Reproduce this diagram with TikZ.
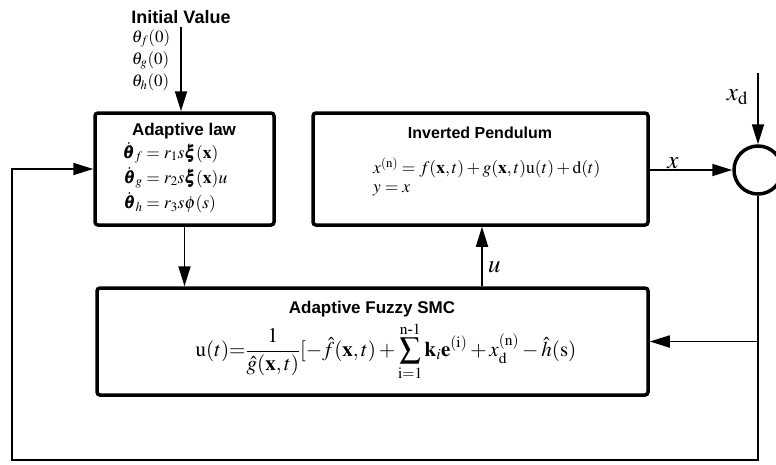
\documentclass[tikz,border=0pt]{standalone}
\usepackage{mathptmx}
\usepackage{amsmath,bm}
\usepackage{fontspec}
\setmainfont{Liberation Serif}
\setsansfont{Liberation Sans}
\usetikzlibrary{arrows.meta,positioning}

\begin{document}
\begin{tikzpicture}[x=1pt, y=-1pt,
    block/.style={draw, line width=3.5pt, rounded corners=3pt, inner sep=0pt},
    title/.style={font=\fontsize{17}{19}\sffamily\bfseries},
    eq/.style={font=\fontsize{17.5}{20}\selectfont, inner sep=0pt},
    sig/.style={font=\fontsize{25}{27}\selectfont},
    arrow/.style={-{Triangle[length=20pt,width=12pt]}, line width=1.8pt}]

  \useasboundingbox (0,0) rectangle (776,464);

  % Blocks
  \node[block, minimum width=179pt, minimum height=112pt] (law) at (184.5,169) {};
  \node[block, minimum width=335pt, minimum height=112pt] (plant) at (480.5,169) {};
  \node[block, minimum width=551pt, minimum height=107pt] (smc) at (372.5,341.5) {};
  \node[draw, circle, line width=3.5pt, minimum size=48pt, inner sep=0pt] (sum) at (758,170) {};

  % Titles
  \node[title, font=\fontsize{18}{20}\sffamily\bfseries] (init) at (181,17) {Initial Value};
  \node[title] (lawtitle) at (184,131) {Adaptive law};
  \node[title, font=\fontsize{16}{18}\sffamily\bfseries] (planttitle) at (480,133) {Inverted Pendulum};
  \node[title] (smctitle) at (372,309) {Adaptive Fuzzy SMC};

  % Initial parameters
  \node[eq, align=left, font=\fontsize{17}{22}\selectfont] (theta0) at (151,60)
    {$\theta_f(0)$\\$\theta_g(0)$\\$\theta_h(0)$};

  % Update laws
  \node[eq, font=\fontsize{17.5}{17.5}\selectfont] (laweq) at (175,178) {$\setlength{\jot}{3pt}\begin{aligned}
      \dot{\bm\theta}_f &= r_1 s\bm\xi(\mathbf{x})\\
      \dot{\bm\theta}_g &= r_2 s\bm\xi(\mathbf{x})u\\
      \dot{\bm\theta}_h &= r_3 s\phi(s)
    \end{aligned}$};

  % Plant model
  \node[eq, anchor=west] (planteq) at (373,168)
    {$x^{(\mathrm{n})}=f(\mathbf{x},t)+g(\mathbf{x},t)\mathrm{u}(t)+\mathrm{d}(t)$};
  \node[eq, anchor=west] (outeq) at (373,190) {$y=x$};

  % Control law
  \node[eq, font=\fontsize{21}{24}\selectfont] (smceq) at (386,351)
    {$\displaystyle \mathrm{u}(t){=}\frac{1}{\hat g(\mathbf{x},t)}[-\hat f(\mathbf{x},t)
      +\sum_{\mathrm{i}=1}^{\mathrm{n}\text{-}1}\mathbf{k}_i\mathbf{e}^{(\mathrm{i})}
      +x_\mathrm{d}^{(\mathrm{n})}-\hat h(\mathrm{s})$};

  \coordinate (utap) at (482,0);
  \coordinate (xdin) at (758,73);
  \coordinate (fbleft) at (12,460);

  % Arrows
  \draw[arrow] (init.south) -- (law.north -| init.south);
  \draw[arrow] (law.south) -- (law.south |- smc.north);
  \draw[arrow] (utap |- smc.north) -- (utap |- plant.south)
    node[sig, pos=0.32, right=2pt] {$u$};
  \draw[arrow] (plant.east |- sum) -- (sum.west)
    node[sig, pos=0.28, above=-3pt] {$x$};
  \draw[arrow] (xdin) -- (sum.north)
    node[sig, pos=0.34, left=6pt] {$x_\mathrm{d}$};

  % Feedback
  \draw[arrow] (sum.south) |- (fbleft) |- (law.west);
  \draw[arrow] (sum.south |- smc.east) -- (smc.east);

\end{tikzpicture}
\end{document}
